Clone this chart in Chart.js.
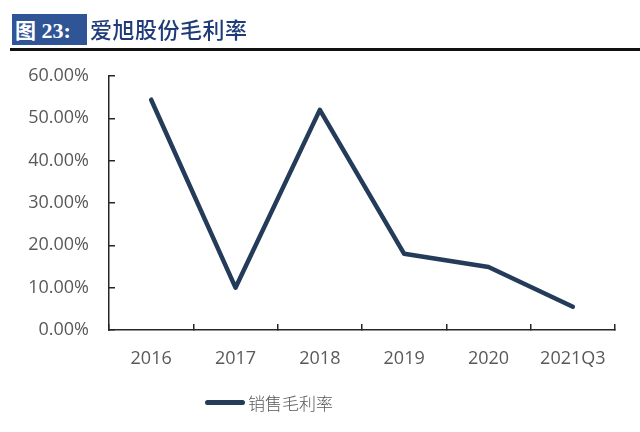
<!DOCTYPE html>
<html>
<head>
<meta charset="utf-8">
<script src="https://cdn.jsdelivr.net/npm/chart.js@4.4.0/dist/chart.umd.min.js"></script>
<style>
  html, body { margin: 0; padding: 0; background: #fff; }
  #wrap { position: relative; width: 640px; height: 432px; overflow: hidden; }
  #chart { position: absolute; left: 0; top: 0; }
  .box {
    position: absolute; left: 12px; top: 14px; width: 75px; height: 31px;
    background: #2f5597; color: #fff; font: bold 22px "Liberation Serif", "Noto Sans CJK SC", serif;
    line-height: 31px; padding-left: 3px; box-sizing: border-box; white-space: nowrap;
  }
  .box .cjk { font-family: "Noto Sans CJK SC"; font-weight: 700; font-size: 21px; }
  .ttl {
    position: absolute; left: 90px; top: 13px; color: #1f3c7a;
    font: 500 22px "Noto Sans CJK SC", sans-serif; line-height: 31px; letter-spacing: 0.5px;
  }
  .rule { position: absolute; left: 10px; top: 48px; width: 630px; height: 3px; background: #111; }
  .legend { position: absolute; left: 205px; top: 389px; height: 26px; display: flex; align-items: center; }
  .legend .swatch { width: 40px; height: 5px; border-radius: 3px; background: #243b5a; }
  .legend .lab { margin-left: 3px; color: #595959; font: 300 17px "Noto Sans CJK SC", sans-serif; }
</style>
</head>
<body>
<div id="wrap">
  <canvas id="chart" width="640" height="432"></canvas>
  <div class="box"><span class="cjk">图</span> 23:</div>
  <div class="ttl">爱旭股份毛利率</div>
  <div class="rule"></div>
  <div class="legend"><div class="swatch"></div><span class="lab" id="legendLabel"></span></div>
</div>
<script>
// ── Data ─────────────────────────────────────────────────────────
const YEARS = ["2016", "2017", "2018", "2019", "2020", "2021Q3"];
const GROSS_MARGIN = [54.4, 10.0, 52.0, 18.0, 14.9, 5.5];   // 销售毛利率 (%)
const SERIES_NAME = "销售毛利率";
const Y_MIN = 0, Y_MAX = 60, Y_STEP = 10;

const LINE_COLOR = "#243b5a";
const AXIS_COLOR = "#262626";
const LABEL_COLOR = "#595959";
const TICK_FONT = { family: "'Open Sans', sans-serif", size: 18 };

document.getElementById("legendLabel").textContent = SERIES_NAME;

// ── Chart ────────────────────────────────────────────────────────
const ctx = document.getElementById("chart").getContext("2d");
new Chart(ctx, {
  type: "line",
  data: {
    labels: YEARS,
    datasets: [{
      label: SERIES_NAME,
      data: GROSS_MARGIN,
      borderColor: LINE_COLOR,
      borderWidth: 4.5,
      borderJoinStyle: "round",
      borderCapStyle: "round",
      pointRadius: 0,
      tension: 0,
      fill: false,
    }],
  },
  options: {
    responsive: false,
    animation: false,
    layout: { padding: { top: 76, right: 25, bottom: 62, left: 0 } },
    plugins: { legend: { display: false }, tooltip: { enabled: false } },
    scales: {
      x: {
        offset: true,
        grid: { offset: true, drawOnChartArea: false, tickLength: -6, color: AXIS_COLOR, lineWidth: 1.5 },
        border: { display: true, color: AXIS_COLOR, width: 1.5 },
        ticks: { color: LABEL_COLOR, font: TICK_FONT, padding: 24, maxRotation: 0 },
        afterFit: (s) => { s.height = 40; },
      },
      y: {
        min: Y_MIN, max: Y_MAX,
        grid: { drawOnChartArea: false, tickLength: -6, color: AXIS_COLOR, lineWidth: 1.5 },
        border: { display: true, color: AXIS_COLOR, width: 1.5 },
        ticks: {
          stepSize: Y_STEP, color: LABEL_COLOR, font: TICK_FONT, padding: 26,
          callback: (v) => v.toFixed(2) + "%",
        },
        afterFit: (s) => { s.width = 109; },
      },
    },
  },
});
</script>
</body>
</html>
